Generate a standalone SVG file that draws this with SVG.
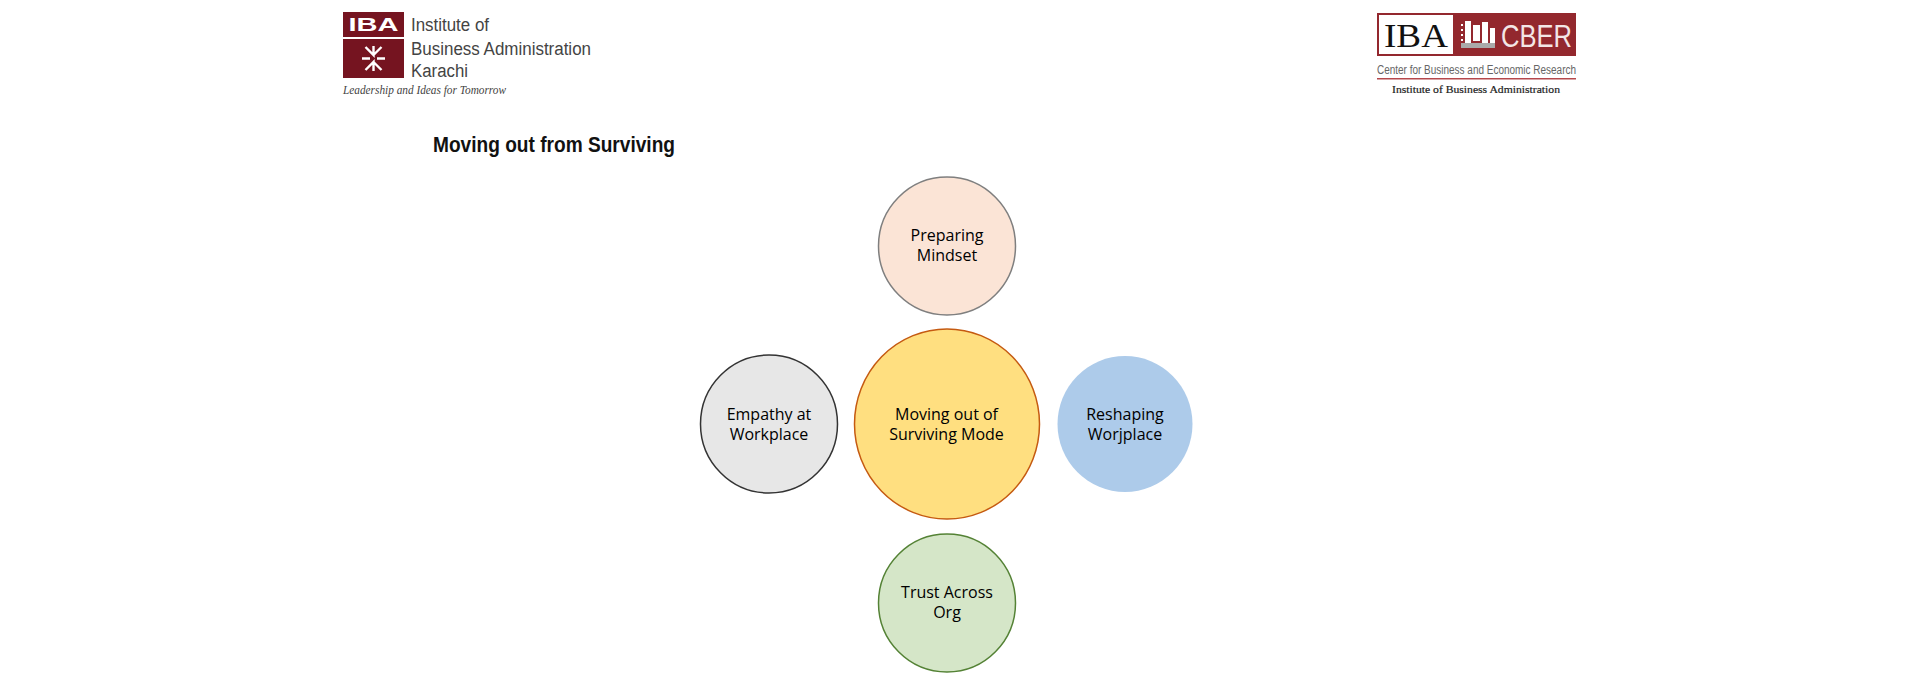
<svg xmlns="http://www.w3.org/2000/svg" width="1920" height="700" viewBox="0 0 1920 700">
<style>
.lab{font-family:"Open Sans","Noto Sans",sans-serif;font-size:16px;fill:#000;text-anchor:middle}
.n{stroke-width:1.5}
.lg{font-family:"Liberation Sans",Arial,sans-serif;font-size:18px;fill:#444}
.ar{stroke:#fff;stroke-width:2.4;fill:none}
</style>
<rect width="1920" height="700" fill="#fff"/>
<g id="logo-iba">
<rect x="343" y="12" width="61" height="25" fill="#751420"/>
<rect x="343" y="39" width="61" height="39" fill="#751420"/>
<text x="373.500" y="31" font-family="Liberation Sans,sans-serif" font-weight="700" font-size="18" fill="#fff" text-anchor="middle" textLength="50" lengthAdjust="spacingAndGlyphs">IBA</text>
<path class="ar" d="M373.500 46v9l-8-8M373.500 55l8-8M373.500 71v-9l-8 8M373.500 62l8 8M362 58.500h8M377 58.500h8"/>
<text class="lg" x="411" y="31" textLength="78" lengthAdjust="spacingAndGlyphs">Institute of</text>
<text class="lg" x="411" y="54.500" textLength="180" lengthAdjust="spacingAndGlyphs">Business Administration</text>
<text class="lg" x="411" y="77" textLength="57" lengthAdjust="spacingAndGlyphs">Karachi</text>
<text x="343" y="94" font-family="Liberation Serif,serif" font-style="italic" font-size="12" fill="#444" textLength="163" lengthAdjust="spacingAndGlyphs">Leadership and Ideas for Tomorrow</text>
</g>
<text id="title" x="433" y="151.500" font-family="Liberation Sans,Arial,sans-serif" font-weight="700" font-size="22" fill="#111" textLength="242" lengthAdjust="spacingAndGlyphs">Moving out from Surviving</text>
<g id="logo-cber">
<rect x="1377" y="13" width="199" height="43" fill="#93282e"/>
<rect x="1379" y="15" width="74" height="39" fill="#fff"/>
<text x="1416" y="47" font-family="Liberation Serif,serif" font-size="33" fill="#111" text-anchor="middle" textLength="64" lengthAdjust="spacingAndGlyphs">IBA</text>
<g fill="#fff"><rect x="1461" y="24" width="2" height="2"/><rect x="1461" y="29" width="2" height="2"/><rect x="1461" y="34" width="2" height="2"/><rect x="1461" y="39" width="2" height="2"/><rect x="1465" y="21" width="6" height="26"/><rect x="1473" y="25" width="7" height="16"/><rect x="1482" y="22" width="6" height="25"/><rect x="1490" y="28" width="5" height="19"/></g>
<rect x="1461" y="43" width="34" height="5" fill="#aaa"/>
<text x="1501" y="47" font-family="Liberation Sans,sans-serif" font-size="31" fill="#f3e6e6" textLength="71" lengthAdjust="spacingAndGlyphs">CBER</text>
<text x="1377" y="73.500" font-family="Liberation Sans,sans-serif" font-size="12.500" fill="#666" textLength="199" lengthAdjust="spacingAndGlyphs">Center for Business and Economic Research</text>
<rect x="1377" y="78" width="199" height="1.500" fill="#b5484c"/>
<text x="1392" y="93" font-family="Liberation Serif,serif" font-weight="400" font-size="11" stroke="#222" stroke-width="0.200" fill="#222" textLength="168" lengthAdjust="spacingAndGlyphs">Institute of Business Administration</text>
</g>
<g id="connectors"/>
<g id="node-center"><ellipse class="n" cx="947" cy="424" rx="92.500" ry="95" fill="#ffdf80" stroke="#c55a11"/><text class="lab" x="946.500" y="419.500">Moving out of</text><text class="lab" x="946.500" y="439.500">Surviving Mode</text></g>
<g id="node-top"><ellipse class="n" cx="947" cy="246" rx="68.500" ry="69" fill="#fbe4d6" stroke="#7f7f7f"/><text class="lab" x="947" y="241">Preparing</text><text class="lab" x="947" y="261">Mindset</text></g>
<g id="node-left"><ellipse class="n" cx="769" cy="424" rx="68.500" ry="69" fill="#e7e7e7" stroke="#333"/><text class="lab" x="769" y="419.500">Empathy at</text><text class="lab" x="769" y="439.500">Workplace</text></g>
<g id="node-right"><ellipse cx="1125" cy="424" rx="67.500" ry="68" fill="#adcbea"/><text class="lab" x="1125" y="419.500">Reshaping</text><text class="lab" x="1125" y="439.500">Worjplace</text></g>
<g id="node-bottom"><ellipse class="n" cx="947" cy="603" rx="68.500" ry="69" fill="#d5e6c8" stroke="#548235"/><text class="lab" x="947" y="598">Trust Across</text><text class="lab" x="947" y="618">Org</text></g>
</svg>
